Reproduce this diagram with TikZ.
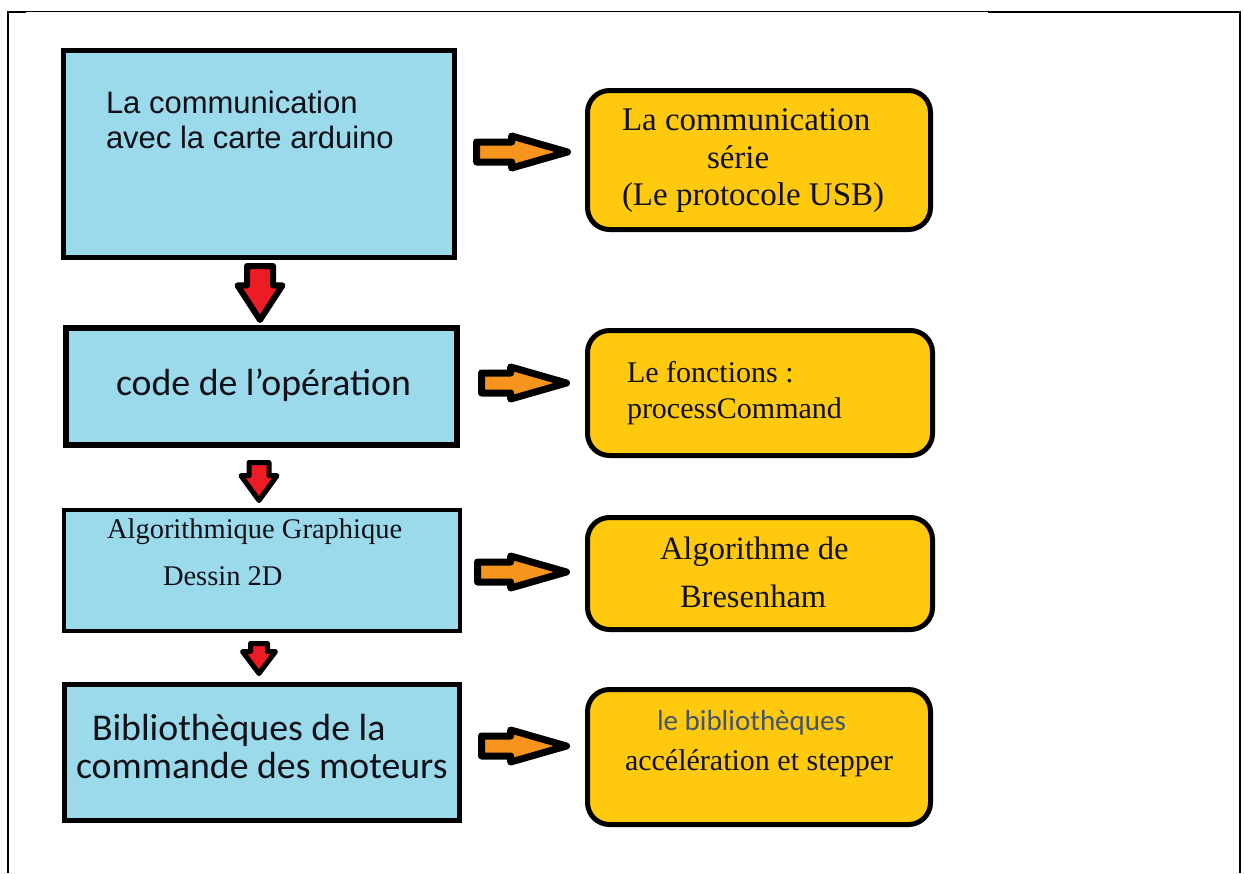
\documentclass[tikz,border=0pt]{standalone}
\usepackage{fontspec}
\setmainfont{Liberation Serif}
\newfontfamily\arialf{Liberation Sans}
\newfontfamily\calibrif{Carlito}
\usetikzlibrary{shapes.arrows}
\definecolor{boxblue}{HTML}{9BDAEA}
\definecolor{boxorange}{HTML}{FFC90E}
\definecolor{arroworange}{HTML}{F7941D}
\definecolor{arrowred}{HTML}{ED1C24}
\definecolor{txtgray}{HTML}{44546A}
\definecolor{txtdark}{HTML}{101018}
\begin{document}
\begin{tikzpicture}[x=1pt,y=-1pt,
  bluebox/.style={draw=black, fill=boxblue, rectangle, inner sep=0pt, outer sep=0pt},
  orangebox/.style={draw=black, fill=boxorange, rectangle, rounded corners=22pt, line width=5pt, inner sep=0pt, outer sep=0pt},
  txt/.style={anchor=base west, inner sep=0pt, outer sep=0pt, text=txtdark},
  sansA/.style={font=\arialf\fontsize{31}{35}\selectfont},
  calA/.style={font=\calibrif\fontsize{37.8}{40}\selectfont},
  harrow/.style={single arrow, draw=black, fill=arroworange, line width=7pt, line join=round,
     inner sep=6.5pt, outer sep=0pt, single arrow head extend=6pt, single arrow tip angle=32, anchor=tail},
  varrow/.style={single arrow, draw=black, fill=arrowred, line join=round, outer sep=0pt,
     shape border rotate=270, anchor=tail},
]
\useasboundingbox (0,0) rectangle (1244,873);

% outer frame
\draw[line width=1.6pt] (8,873) -- (8,11.5) -- (1240,11.5) -- (1240,873);
\draw[line width=2.8pt] (8,12) -- (26,12);
\draw[line width=2.8pt] (988,12) -- (1240,12);

% left (blue) boxes
\node[bluebox, line width=5pt, minimum width=391pt, minimum height=207pt] (b1) at (259,154) {};
\node[bluebox, line width=6pt, minimum width=391pt, minimum height=117pt] (b2) at (261.5,386.5) {};
\node[bluebox, line width=4pt, minimum width=396pt, minimum height=121pt] (b3) at (262,570.5) {};
\node[bluebox, line width=5pt, minimum width=395pt, minimum height=136pt] (b4) at (262,752.5) {};

% right (orange) boxes
\node[orangebox, minimum width=343pt, minimum height=139pt] (o1) at (759,160) {};
\node[orangebox, minimum width=345pt, minimum height=125pt] (o2) at (760,393) {};
\node[orangebox, minimum width=345pt, minimum height=112pt] (o3) at (760,573.5) {};
\node[orangebox, minimum width=343pt, minimum height=135pt] (o4) at (759,757) {};

% texts in blue boxes
\node[txt, sansA] (t1a) at (106,113) {La communication};
\node[txt, sansA] (t1b) at (106,148) {avec la carte arduino};
\node[txt, calA] (t2) at (116,395) {code de l’opération};
\node[txt, font=\fontsize{28.5}{32}\selectfont] (t3a) at (107,538) {Algorithmique Graphique};
\node[txt, font=\fontsize{28.5}{32}\selectfont] (t3b) at (163,585) {Dessin 2D};
\node[txt, calA] (t4a) at (92,740) {Bibliothèques de la};
\node[txt, calA] (t4b) at (76,778) {commande des moteurs};

% texts in orange boxes
\node[txt, font=\fontsize{33}{36}\selectfont] (u1a) at (622,130) {La communication};
\node[txt, font=\fontsize{33}{36}\selectfont] (u1b) at (707,168) {série};
\node[txt, font=\fontsize{33}{36}\selectfont] (u1c) at (622,205) {(Le protocole USB)};
\node[txt, font=\fontsize{30}{34}\selectfont] (u2a) at (627,382) {Le fonctions :};
\node[txt, font=\fontsize{30}{34}\selectfont] (u2b) at (627,418) {processCommand};
\node[txt, font=\fontsize{32.5}{36}\selectfont] (u3a) at (660,559) {Algorithme de};
\node[txt, font=\fontsize{32.5}{36}\selectfont] (u3b) at (680,607) {Bresenham};
\node[txt, font=\calibrif\fontsize{29}{32}\selectfont, text=txtgray] (u4a) at (657,730) {le bibliothèques};
\node[txt, font=\fontsize{30}{34}\selectfont] (u4b) at (625,770) {accélération et stepper};

% horizontal orange block arrows
\node[harrow, minimum height=91pt] (h1) at (476.5,152) {};
\node[harrow, minimum height=85pt] (h2) at (481.5,383) {};
\node[harrow, minimum height=89pt] (h3) at (477.5,572) {};
\node[harrow, minimum height=85pt] (h4) at (481.5,746) {};

% vertical red block arrows
\node[varrow, line width=6pt, inner sep=10pt, single arrow head extend=9.5pt,
      single arrow tip angle=66, minimum height=54pt] (v1) at (260,266) {};
\node[varrow, line width=5pt, inner sep=7.5pt, single arrow head extend=8pt,
      single arrow tip angle=72, minimum height=38pt] (v2) at (259,462.5) {};
\node[varrow, line width=5pt, inner sep=6pt, single arrow head extend=8pt,
      single arrow tip angle=74, minimum height=30pt] (v3) at (259,643.5) {};
\end{tikzpicture}
\end{document}
